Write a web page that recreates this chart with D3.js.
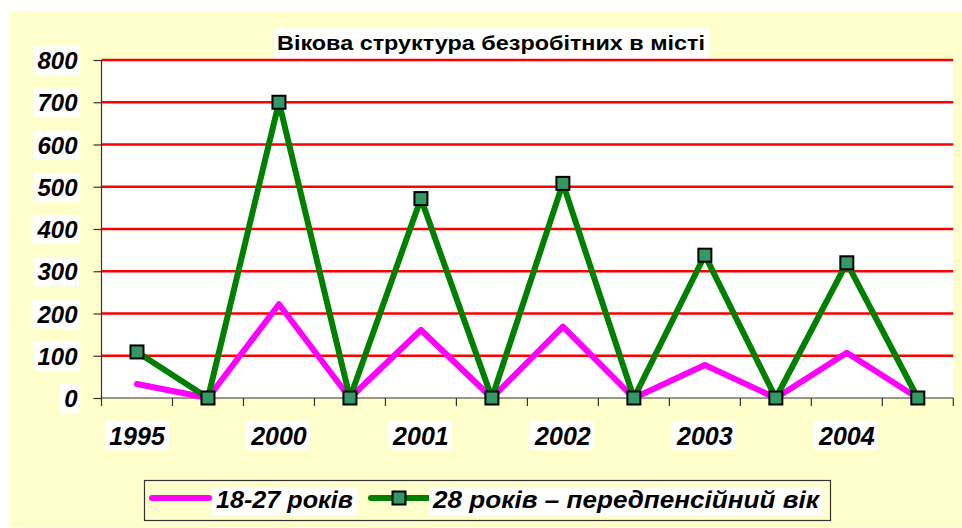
<!DOCTYPE html>
<html><head><meta charset="utf-8">
<script src="https://cdn.jsdelivr.net/npm/d3@7"></script>
<style>html,body{margin:0;padding:0;background:#fff}svg{display:block}</style>
</head><body>
<svg id="c" width="962" height="528"></svg>
<script>
const categories = ["1995","","2000","","2001","","2002","","2003","","2004",""];
const young = [33, 0, 222, 0, 161, 0, 169, 0, 78, 0, 107, 0];
const older = [109, 0, 700, 0, 472, 0, 508, 0, 338, 0, 320, 0];
const yTicks = [0,100,200,300,400,500,600,700,800];
const seriesNames = ["18-27 років", "28 років – передпенсійний вік"];
const title = "Вікова структура безробітних в місті";

const FONT = "'Liberation Sans', Arial, sans-serif";
const svg = d3.select("#c");
const L = 101.5, R = 953.3, T = 60, B = 398;

svg.append("rect").attr("x",10).attr("y",11).attr("width",952).attr("height",516).attr("fill","#FFFFCC");
svg.append("rect").attr("x",L).attr("y",T).attr("width",R-L).attr("height",B-T).attr("fill","#fff");

const x = d3.scaleBand().domain(d3.range(categories.length)).range([L,R]).padding(0);
const y = d3.scaleLinear().domain([0,800]).range([B,T]);
const cx = i => x(i) + x.bandwidth()/2;

// title box
const tg = svg.append("g");
tg.append("rect").attr("x",274).attr("y",28).attr("width",435).attr("height",31).attr("fill","#fff");
tg.append("text").attr("x",277).attr("y",49.5)
  .attr("font-family",FONT).attr("font-weight","bold").attr("font-size",19.5).attr("fill","#000")
  .attr("textLength",428).attr("lengthAdjust","spacingAndGlyphs").text(title);

// gridlines
svg.append("g").selectAll("line").data(yTicks.filter(d=>d>0)).join("line")
  .attr("x1",L).attr("x2",R).attr("y1",d=>y(d)).attr("y2",d=>y(d))
  .attr("stroke","#FF0000").attr("stroke-width",2.5);

// y axis
const ya = svg.append("g").attr("transform",`translate(${L},0)`)
  .call(d3.axisLeft(y).tickValues(yTicks).tickSize(8).tickPadding(16).tickFormat(d3.format("d")));
ya.select(".domain").attr("stroke","#333").attr("stroke-width",1.2).attr("d",`M0,${T}V${B}`);
ya.selectAll(".tick line").attr("stroke","#333").attr("stroke-width",1.2);
ya.selectAll(".tick text").attr("font-family",FONT).attr("font-weight","bold").attr("font-style","italic")
  .attr("font-size",24).attr("fill","#000").attr("dy","0.36em");
ya.selectAll(".tick").each(function(){
  const t = d3.select(this).select("text");
  const bb = t.node().getBBox();
  d3.select(this).insert("rect","text").attr("x",bb.x-4).attr("y",bb.y-1).attr("width",bb.width+6).attr("height",bb.height+2).attr("fill","#fff");
});

// x axis
const xa = svg.append("g").attr("transform",`translate(0,${B})`)
  .call(d3.axisBottom(x).tickSize(0).tickPadding(29).tickFormat(i=>categories[i]));
xa.select(".domain").attr("stroke","#333").attr("stroke-width",1.2).attr("d",`M${L},0H${R}`);
xa.selectAll(".tick text").attr("font-family",FONT).attr("font-weight","bold").attr("font-style","italic")
  .attr("font-size",25).attr("fill","#000");
xa.selectAll(".tick").each(function(d){
  if(!categories[d]) return;
  const t = d3.select(this).select("text");
  const bb = t.node().getBBox();
  d3.select(this).insert("rect","text").attr("x",bb.x-4).attr("y",bb.y-1).attr("width",bb.width+7).attr("height",bb.height+1).attr("fill","#fff");
});
const bounds = d3.range(categories.length).map(i=>x(i)).concat([R]);
xa.append("g").selectAll("line").data(bounds).join("line")
  .attr("x1",d=>d).attr("x2",d=>d).attr("y1",0).attr("y2",8).attr("stroke","#333").attr("stroke-width",1.2);

// lines
const line = d3.line().x((d,i)=>cx(i)).y(d=>y(d));
svg.append("path").datum(young).attr("d",line).attr("fill","none").attr("stroke","#FF00FF")
  .attr("stroke-width",6).attr("stroke-linejoin","round").attr("stroke-linecap","round");
svg.append("path").datum(older).attr("d",line).attr("fill","none").attr("stroke","#008000")
  .attr("stroke-width",6).attr("stroke-linejoin","round").attr("stroke-linecap","round");
svg.append("g").selectAll("rect").data(older).join("rect")
  .attr("x",(d,i)=>cx(i)-6.5).attr("y",d=>y(d)-6.5).attr("width",13).attr("height",13)
  .attr("fill","#339966").attr("stroke","#000").attr("stroke-width",2);

// legend
const lg = svg.append("g");
lg.append("rect").attr("x",144.5).attr("y",480.5).attr("width",686).attr("height",40)
  .attr("fill","#FFFFCC").attr("stroke","#333").attr("stroke-width",1.2);
lg.append("line").attr("x1",152).attr("x2",209).attr("y1",498).attr("y2",498)
  .attr("stroke","#FF00FF").attr("stroke-width",6).attr("stroke-linecap","round");
lg.append("line").attr("x1",371).attr("x2",428).attr("y1",498).attr("y2",498)
  .attr("stroke","#008000").attr("stroke-width",6).attr("stroke-linecap","round");
lg.append("rect").attr("x",399-6.5).attr("y",498-6.5).attr("width",13).attr("height",13)
  .attr("fill","#339966").attr("stroke","#000").attr("stroke-width",2);
const lx = [216, 433];
const lw = [137, 386];
seriesNames.forEach((n,k)=>{
  const g = lg.append("g");
  g.append("rect").attr("x",lx[k]-4).attr("y",488).attr("width",lw[k]+8).attr("height",27).attr("fill","#fff");
  g.append("text").attr("x",lx[k]).attr("y",508).attr("font-family",FONT).attr("font-weight","bold")
    .attr("font-style","italic").attr("font-size",24.5).attr("fill","#000")
    .attr("textLength",lw[k]).attr("lengthAdjust","spacingAndGlyphs").text(n);
});
</script>
</body></html>
